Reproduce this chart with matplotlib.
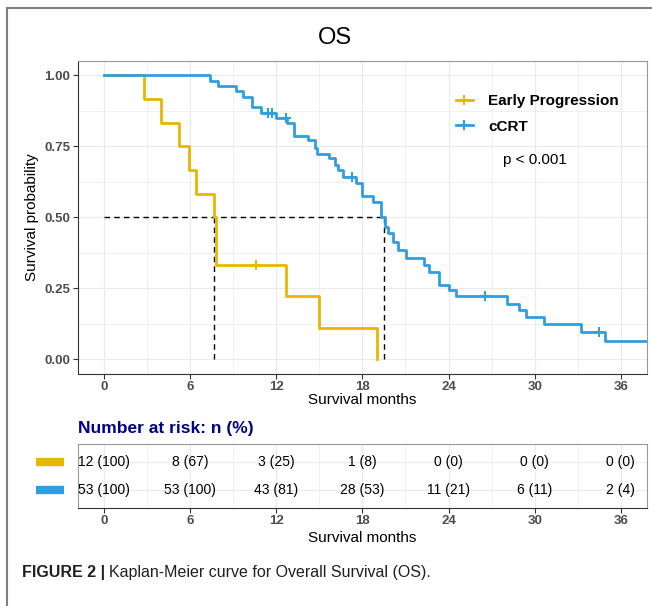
import matplotlib
matplotlib.use('Agg')
import matplotlib.pyplot as plt
from matplotlib.patches import Rectangle
from matplotlib.ticker import MultipleLocator

plt.rcParams['font.family'] = ['Liberation Sans', 'DejaVu Sans']

# Kaplan-Meier steps
ep_time = [0, 2.8, 4.0, 5.2, 5.9, 6.4, 7.65, 7.8, 12.7, 15.0, 19.0]
ep_surv = [1.0, 0.917, 0.833, 0.75, 0.667, 0.583, 0.5, 0.333, 0.222, 0.111, 0.0]
ep_cens_time = [10.6]
ep_cens_surv = [0.333]

cc_time = [0, 7.4, 7.97, 9.2, 9.7, 10.3, 10.94, 11.98, 12.76, 13.25, 14.2, 14.7,
           14.85, 15.7, 16.08, 16.3, 16.65, 17.58, 18.0, 18.74, 19.3, 19.55,
           19.78, 20.1, 20.47, 21.05, 22.3, 22.67, 23.37, 24.0, 24.5, 28.1,
           28.9, 29.4, 30.66, 33.2, 34.9, 38.5]
cc_surv = [1.0, 0.981, 0.962, 0.943, 0.925, 0.887, 0.868, 0.849, 0.831, 0.785,
           0.771, 0.745, 0.724, 0.707, 0.683, 0.665, 0.642, 0.619, 0.574, 0.554,
           0.501, 0.466, 0.443, 0.413, 0.386, 0.355, 0.331, 0.307, 0.261, 0.243,
           0.222, 0.196, 0.173, 0.149, 0.123, 0.096, 0.064, 0.064]
cc_cens_time = [11.4, 11.7, 12.65, 17.3, 26.56, 34.5]
cc_cens_surv = [0.868, 0.868, 0.849, 0.642, 0.222, 0.096]

ep_median = 7.7
cc_median = 19.5

risk_times = [0, 6, 12, 18, 24, 30, 36]
ep_n = [12, 8, 3, 1, 0, 0, 0]
ep_pct = [100, 67, 25, 8, 0, 0, 0]
cc_n = [53, 53, 43, 28, 11, 6, 2]
cc_pct = [100, 100, 81, 53, 21, 11, 4]

labels = ['Early Progression', 'cCRT']
colors = ['#E7B800', '#2E9FDF']

W, H = 652, 606
fig = plt.figure(figsize=(W / 100, H / 100), dpi=100)


def fx(px):
    return px / W


def fy(py):
    return 1 - py / H


tick_color = '#4D4D4D'
grid_color = '#EBEBEB'

# main survival panel
ax = fig.add_axes([fx(78), fy(373.5), fx(646.7 - 78), (373.5 - 61) / H])
ax.step(ep_time, ep_surv, where='post', color=colors[0], lw=2.0, zorder=3)
ax.step(cc_time, cc_surv, where='post', color=colors[1], lw=2.0, zorder=3)
ax.plot(ep_cens_time, ep_cens_surv, '+', color=colors[0], ms=7, mew=1.5, zorder=4)
ax.plot(cc_cens_time, cc_cens_surv, '+', color=colors[1], ms=7, mew=1.5, zorder=4)

# median lines
ax.plot([0, cc_median], [0.5, 0.5], color='black', ls=(0, (4, 3)), lw=1.0, zorder=2)
ax.plot([ep_median, ep_median], [0, 0.5], color='black', ls=(0, (4, 3)), lw=1.0, zorder=2)
ax.plot([cc_median, cc_median], [0, 0.5], color='black', ls=(0, (4, 3)), lw=1.0, zorder=2)

# legend handles
h1, = ax.plot([], [], color=colors[0], lw=2.0, marker='+', ms=7, mew=1.5)
h2, = ax.plot([], [], color=colors[1], lw=2.0, marker='+', ms=7, mew=1.5)
leg = ax.legend([h1, h2], labels, loc='upper left', bbox_to_anchor=(0.651, 0.918),
                frameon=False, borderpad=0, handlelength=1.1, handletextpad=1.0,
                labelspacing=0.75, prop={'size': 11, 'weight': 'bold'})

ax.text(30, 0.70, 'p < 0.001', ha='center', va='center', fontsize=11)

ax.set_xlim(-1.8, 37.8)
ax.set_ylim(-0.05, 1.05)
ax.xaxis.set_major_locator(MultipleLocator(6))
ax.xaxis.set_minor_locator(MultipleLocator(3))
ax.set_yticks([0, 0.25, 0.5, 0.75, 1.0])
ax.set_yticklabels(['0.00', '0.25', '0.50', '0.75', '1.00'])
ax.yaxis.set_minor_locator(MultipleLocator(0.125))
ax.grid(True, which='major', color=grid_color, lw=0.9, zorder=0)
ax.grid(True, which='minor', color=grid_color, lw=0.5, zorder=0)
ax.set_axisbelow(True)
ax.tick_params(which='minor', length=0)
ax.tick_params(which='major', length=3.5, width=0.8, color='#333333',
               labelcolor=tick_color, labelsize=9.5, pad=2)
for lab in ax.get_xticklabels() + ax.get_yticklabels():
    lab.set_fontweight('bold')
for s in ax.spines.values():
    s.set_color('#999999')
    s.set_linewidth(0.8)
ax.spines['left'].set_color('#333333')
ax.spines['bottom'].set_color('#333333')
ax.set_xlabel('Survival months', fontsize=11, labelpad=0)
ax.set_ylabel('Survival probability', fontsize=11, labelpad=4)

fig.text(fx(335), fy(38), 'OS', ha='center', va='center', fontsize=17)

# risk table
at = fig.add_axes([fx(78), fy(508), fx(646.7 - 78), (508 - 444) / H])
at.set_xlim(-1.8, 37.8)
at.set_ylim(0.357, 2.643)
for i in range(len(risk_times)):
    at.text(risk_times[i], 2, '{} ({})'.format(ep_n[i], ep_pct[i]),
            ha='center', va='center', fontsize=10)
    at.text(risk_times[i], 1, '{} ({})'.format(cc_n[i], cc_pct[i]),
            ha='center', va='center', fontsize=10)
at.xaxis.set_major_locator(MultipleLocator(6))
at.xaxis.set_minor_locator(MultipleLocator(3))
at.set_yticks([1, 2])
at.set_yticklabels([])
at.tick_params(axis='y', length=0)
at.grid(True, which='major', color=grid_color, lw=0.9)
at.grid(True, which='minor', axis='x', color=grid_color, lw=0.5)
at.set_axisbelow(True)
at.tick_params(which='minor', length=0)
at.tick_params(axis='x', which='major', length=3.5, width=0.8, color='#333333',
               labelcolor=tick_color, labelsize=9.5, pad=1.5)
for lab in at.get_xticklabels():
    lab.set_fontweight('bold')
for s in at.spines.values():
    s.set_color('#999999')
    s.set_linewidth(0.8)
at.spines['bottom'].set_color('#333333')
at.set_xlabel('Survival months', fontsize=11, labelpad=3)

# strata colour keys left of the table
for yv, c in zip([2, 1], colors):
    at.plot([-0.0744, -0.025], [yv, yv], color=c, lw=6, solid_capstyle='butt',
            transform=at.get_yaxis_transform(), clip_on=False)

fig.text(fx(78), fy(428), 'Number at risk: n (%)', ha='left', va='center',
         fontsize=12.5, fontweight='bold', color='#00008B')

# outer frame of the figure panel
fig.add_artist(Rectangle((fx(7), -0.1), 1.2, fy(8) + 0.1, transform=fig.transFigure,
                         fill=False, edgecolor='#808080', lw=1.5, clip_on=False))

# caption
cap1 = fig.text(fx(22), fy(573), 'FIGURE 2 |', ha='left', va='center',
                fontsize=11.5, fontweight='bold', color='#231F20')
fig.canvas.draw()
bb = cap1.get_window_extent()
fig.text(bb.x1 / W + fx(4), fy(573), 'Kaplan-Meier curve for Overall Survival (OS).',
         ha='left', va='center', fontsize=11.5, color='#231F20')

fig.savefig('out.png', dpi=100)
